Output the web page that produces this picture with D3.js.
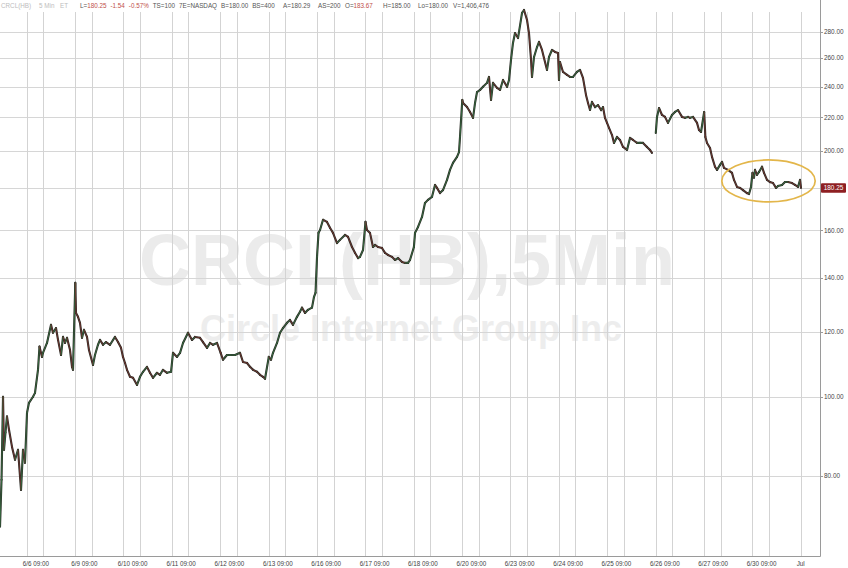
<!DOCTYPE html>
<html><head><meta charset="utf-8">
<script src="https://cdn.jsdelivr.net/npm/d3@7/dist/d3.min.js"></script>
<style>
html,body{margin:0;padding:0;background:#fff;}
svg{display:block;font-family:"Liberation Sans",Arial,Helvetica,sans-serif;}
</style>
</head><body>
<svg id="chart" width="848" height="568"></svg>
<script>
// ---- data (session time = trading days since 6/5 04:00 ET, 16h extended sessions) ----
const sessionDays = ['6/5','6/6','6/9','6/10','6/11','6/12','6/13','6/16','6/17','6/18','6/20','6/23','6/24','6/25','6/26','6/27','6/30','Jul'];
const sessionT = [
 0.449,0.480,0.511,0.531,0.562,0.593,0.635,0.697,0.759,0.821,0.883,0.924,0.965,
 1.007,1.048,1.131,1.172,1.234,1.265,1.317,1.337,1.420,1.503,1.544,1.606,1.648,1.710,1.751,1.792,1.834,1.896,1.937,1.958,
 2.005,2.020,2.061,2.102,2.144,2.185,2.247,2.288,2.371,2.412,2.474,2.516,2.578,2.640,2.723,2.826,2.888,2.950,2.991,
 3.033,3.074,3.136,3.198,3.281,3.343,3.405,3.487,3.549,3.611,3.694,3.756,3.818,3.901,3.984,
 4.025,4.108,4.170,4.232,4.335,4.418,4.480,4.583,4.645,4.728,4.790,4.852,4.934,
 5.010,5.058,5.141,5.203,5.307,5.410,5.472,5.555,5.617,5.679,5.761,5.823,5.885,5.927,
 6.005,6.051,6.092,6.175,6.237,6.299,6.381,6.443,6.505,6.588,6.650,6.691,6.754,6.815,6.898,6.940,6.971,
 7.002,7.033,7.064,7.126,7.208,7.270,7.332,7.415,7.477,7.580,7.643,7.725,7.787,7.849,7.890,7.953,
 8.004,8.035,8.097,8.159,8.201,8.263,8.345,8.407,8.469,8.552,8.614,8.676,8.759,8.821,8.883,8.924,
 9.005,9.028,9.090,9.172,9.234,9.296,9.379,9.441,9.482,9.544,9.606,9.689,9.751,9.813,9.896,9.937,9.958,
 10.005,10.020,10.103,10.165,10.227,10.268,10.310,10.372,10.433,10.516,10.557,10.599,10.640,10.723,10.785,10.847,10.930,10.971,
 11.012,11.053,11.095,11.157,11.240,11.281,11.343,11.384,11.426,11.446,11.488,11.550,11.591,11.653,11.694,11.756,11.798,11.859,11.922,11.984,
 12.004,12.025,12.087,12.170,12.232,12.294,12.376,12.438,12.500,12.562,12.604,12.645,12.686,12.748,12.810,12.873,12.914,12.955,
 12.997,13.038,13.100,13.141,13.203,13.265,13.327,13.410,13.472,13.534,13.617,13.679,13.741,13.823,13.885,13.926,
 14.005,14.030,14.072,14.133,14.195,14.257,14.340,14.402,14.464,14.547,14.609,14.671,14.712,14.774,14.857,14.898,14.940,
 15.005,15.030,15.064,15.126,15.167,15.229,15.271,15.333,15.374,15.415,15.498,15.580,15.622,15.684,15.746,15.808,15.890,15.932,15.973,
 16.004,16.035,16.056,16.097,16.139,16.201,16.242,16.304,16.366,16.428,16.490,16.532,16.614,16.676,16.738,16.821,16.883,16.945,16.986,17.007
];
const price = [
 69.3,79.1,100.0,86.1,90.4,94.6,91.1,86.8,83.7,86.1,76.9,86.1,83.0,
 95.6,98.3,100.0,101.1,107.9,115.2,111.9,113.2,116.4,122.5,119.8,121.4,117.4,112.5,118.4,116.4,118.1,114.1,108.8,107.9,
 137.9,126.7,125.3,123.2,118.1,120.8,118.4,114.1,109.4,112.5,115.8,117.4,115.8,116.7,115.8,118.4,116.7,114.8,111.9,
 110.0,107.9,105.8,105.5,103.4,105.8,107.3,108.8,107.0,105.5,107.0,106.4,107.9,107.0,107.3,
 113.2,111.9,113.2,116.4,119.8,117.4,118.4,118.1,116.7,114.8,116.4,115.8,116.4,
 113.2,111.0,112.5,112.5,112.5,113.2,110.3,110.0,108.8,107.9,107.3,106.4,105.8,105.2,
 111.9,111.0,113.2,116.4,119.8,121.4,123.2,124.2,122.5,125.3,127.1,128.6,126.7,127.8,128.6,132.6,134.1,
 148.4,158.8,160.1,164.8,163.8,161.1,158.8,154.3,155.7,157.9,157.0,152.6,150.1,147.9,148.4,151.3,
 163.8,160.1,158.8,152.6,153.5,152.6,152.2,150.1,149.2,148.4,147.1,147.9,146.3,145.9,145.9,147.1,
 152.6,158.8,161.5,166.1,172.8,174.3,175.8,181.8,180.3,177.7,179.2,184.4,189.7,193.5,196.8,199.5,208.2,
 231.1,229.1,226.5,223.4,219.7,229.1,236.3,237.7,239.8,242.5,246.6,231.1,242.5,239.1,237.7,244.5,239.8,244.5,
 258.7,271.4,279.1,275.2,295.4,297.9,289.6,279.1,258.7,246.6,260.9,268.3,272.2,266.1,260.1,251.5,260.9,266.1,264.6,263.8,
 244.5,257.2,250.1,248.0,246.6,246.6,250.1,251.5,245.9,234.4,229.1,224.6,229.8,226.5,227.8,224.6,226.5,219.7,
 216.6,213.6,209.3,204.7,208.2,206.4,202.4,200.7,207.6,206.4,204.7,204.7,204.7,202.4,200.7,199.0,
 210.5,220.3,225.9,221.5,220.3,216.6,221.5,223.4,224.6,220.3,219.7,220.3,219.7,220.3,216.6,212.3,211.1,
 223.4,208.2,204.7,201.8,196.8,191.4,189.7,192.4,194.0,190.8,189.7,188.1,184.4,180.8,180.3,179.2,177.7,177.2,180.8,
 188.1,185.6,189.7,187.1,188.6,191.4,188.1,184.4,183.3,182.8,180.3,181.3,181.8,183.3,183.3,182.8,181.8,180.8,184.4,180.25
];
const sessionBreaks = [14];          // gap (no connection) at 6/26 open
const yTicks = [80,100,120,140,160,180,200,220,240,260,280];
const lastPrice = 180.25;
const highlight = {t0:15.37, t1:17.30, p0:173.3, p1:195.1};
const headerTitle = ['CRCL(HB)','5 Min','ET'];
const headerKeys = ['L=','','','TS=','7E=','B=','BS=','A=','AS=','O=','H=','Lo=','V='];
const headerVals = ['180.25','-1.54','-0.57%','100','NASDAQ','180.00','400','180.29','200','183.67','185.00','180.00','1,406,476'];
const headerRed = [true,true,true,false,false,false,false,false,false,true,false,false,false];

// ---- layout ----
const plotRight = 820, plotBottom = 556, gridTop = 12;
const svg = d3.select('#chart');

const x = d3.scaleLinear().domain([0.4486, 17.3995]).range([0, plotRight]);
const y = d3.scaleLog().domain([63.8, 306.4]).range([plotBottom, 0]);
const openFrac = (9.5 - 4) / 16;   // regular-session open within 04:00-20:00 session

// watermark
svg.append('text').attr('x', 407).attr('y', 285).attr('text-anchor','middle')
  .attr('font-size', 72).attr('font-weight','bold').attr('fill','#ebebeb')
  .text('CRCL(HB),5Min');
svg.append('text').attr('x', 411).attr('y', 341).attr('text-anchor','middle')
  .attr('font-size', 36).attr('font-weight','bold').attr('fill','#ededed')
  .text('Circle Internet Group Inc');

// horizontal grid
const gGrid = svg.append('g');
gGrid.selectAll('line.h').data(yTicks).join('line')
  .attr('x1', 0).attr('x2', plotRight)
  .attr('y1', d => Math.round(y(d)) + 0.5).attr('y2', d => Math.round(y(d)) + 0.5)
  .attr('stroke', '#d6d6d6').attr('stroke-width', 1);

// vertical grid: session start and open for each day
const vLines = [];
d3.range(1, sessionDays.length).forEach(i => { vLines.push(i); if (i < sessionDays.length - 1) vLines.push(i + openFrac); });
gGrid.selectAll('line.v').data(vLines).join('line')
  .attr('x1', d => Math.round(x(d)) + 0.5).attr('x2', d => Math.round(x(d)) + 0.5)
  .attr('y1', gridTop).attr('y2', plotBottom)
  .attr('stroke', '#d3d3d3').attr('stroke-width', 1);

// axes lines
svg.append('line').attr('x1', 0).attr('x2', plotRight + 0.5)
  .attr('y1', plotBottom + 0.5).attr('y2', plotBottom + 0.5).attr('stroke', '#9a9a9a');
svg.append('line').attr('x1', plotRight + 0.5).attr('x2', plotRight + 0.5)
  .attr('y1', 0).attr('y2', plotBottom + 0.5).attr('stroke', '#9a9a9a');

// y tick labels (right)
const gY = svg.append('g');
gY.selectAll('line').data(yTicks).join('line')
  .attr('x1', plotRight).attr('x2', plotRight + 3)
  .attr('y1', d => Math.round(y(d)) + 0.5).attr('y2', d => Math.round(y(d)) + 0.5)
  .attr('stroke', '#9a9a9a');
gY.selectAll('text').data(yTicks).join('text')
  .attr('x', plotRight + 4).attr('y', d => y(d) + 2.3)
  .attr('font-size', 6.4).attr('fill', '#444')
  .text(d => d3.format('.2f')(d));

// x tick labels
const gX = svg.append('g');
gX.selectAll('text.d').data(d3.range(1, sessionDays.length - 1)).join('text')
  .attr('x', d => x(d + openFrac / 2) + 1).attr('y', 565.5)
  .attr('text-anchor','middle').attr('font-size', 6.3).attr('fill', '#444')
  .text(d => sessionDays[d] + ' 09:00');
gX.append('text').attr('x', x(sessionDays.length - 1)).attr('y', 565.5)
  .attr('text-anchor','middle').attr('font-size', 6.3).attr('fill', '#444')
  .text(sessionDays[sessionDays.length - 1]);

// price series: segments coloured by direction
const pts = sessionT.map((t, i) => ({t, p: price[i]}));
const segs = [];
for (let i = 1; i < pts.length; i++) {
  const a = pts[i-1], b = pts[i];
  if (sessionBreaks.some(s => a.t < s && b.t >= s)) continue;
  segs.push({a, b, up: b.p >= a.p});
}
const gS = svg.append('g').attr('stroke-linecap','round').attr('stroke-linejoin','round');
gS.selectAll('line.base').data(segs).join('line')
  .attr('x1', d => x(d.a.t)).attr('y1', d => y(d.a.p))
  .attr('x2', d => x(d.b.t)).attr('y2', d => y(d.b.p))
  .attr('stroke', '#2b2b26').attr('stroke-width', 2.1);
gS.selectAll('line.col').data(segs).join('line')
  .attr('x1', d => x(d.a.t)).attr('y1', d => y(d.a.p))
  .attr('x2', d => x(d.b.t)).attr('y2', d => y(d.b.p))
  .attr('stroke', d => d.up ? '#3d8a4e' : '#8c3a34').attr('stroke-width', 0.8)
  .attr('opacity', 0.8);

// highlight ellipse
svg.append('ellipse')
  .attr('cx', (x(highlight.t0) + x(highlight.t1)) / 2)
  .attr('cy', (y(highlight.p0) + y(highlight.p1)) / 2)
  .attr('rx', (x(highlight.t1) - x(highlight.t0)) / 2)
  .attr('ry', (y(highlight.p0) - y(highlight.p1)) / 2)
  .attr('fill', 'none').attr('stroke', '#e3b64a').attr('stroke-width', 1.7);

// last price box
const ly = y(lastPrice);
svg.append('rect').attr('x', plotRight + 1).attr('y', ly - 4.8).attr('width', 25).attr('height', 9.6)
  .attr('fill', '#8e1f22').attr('rx', 1);
svg.append('text').attr('x', plotRight + 13.5).attr('y', ly + 2.3).attr('text-anchor','middle')
  .attr('font-size', 6.4).attr('fill', '#fff').text(d3.format('.2f')(lastPrice));

// header: tokens flowed left-to-right, never before their nominal slot
const titleX = [1, 39, 60];
svg.append('g').selectAll('text').data(headerTitle).join('text')
  .attr('x', (d, i) => titleX[i]).attr('y', 8).attr('font-size', 6.3).attr('fill', '#bdbdbd').text(d => d);
const quoteX = [80,106,119,140,177,213,246,283,318,345,383,418,453];
const hq = svg.append('g');
let cursor = 0;
headerKeys.forEach((k, i) => {
  const xPos = Math.max(quoteX[i], cursor);
  const t = hq.append('text').attr('x', xPos).attr('y', 8).attr('font-size', 6.3);
  if (k) t.append('tspan').attr('fill', '#555').text(k);
  t.append('tspan').attr('fill', headerRed[i] ? '#c0504a' : '#555').text(headerVals[i]);
  cursor = xPos + t.node().getComputedTextLength() + 4;
});
</script>
</body></html>
